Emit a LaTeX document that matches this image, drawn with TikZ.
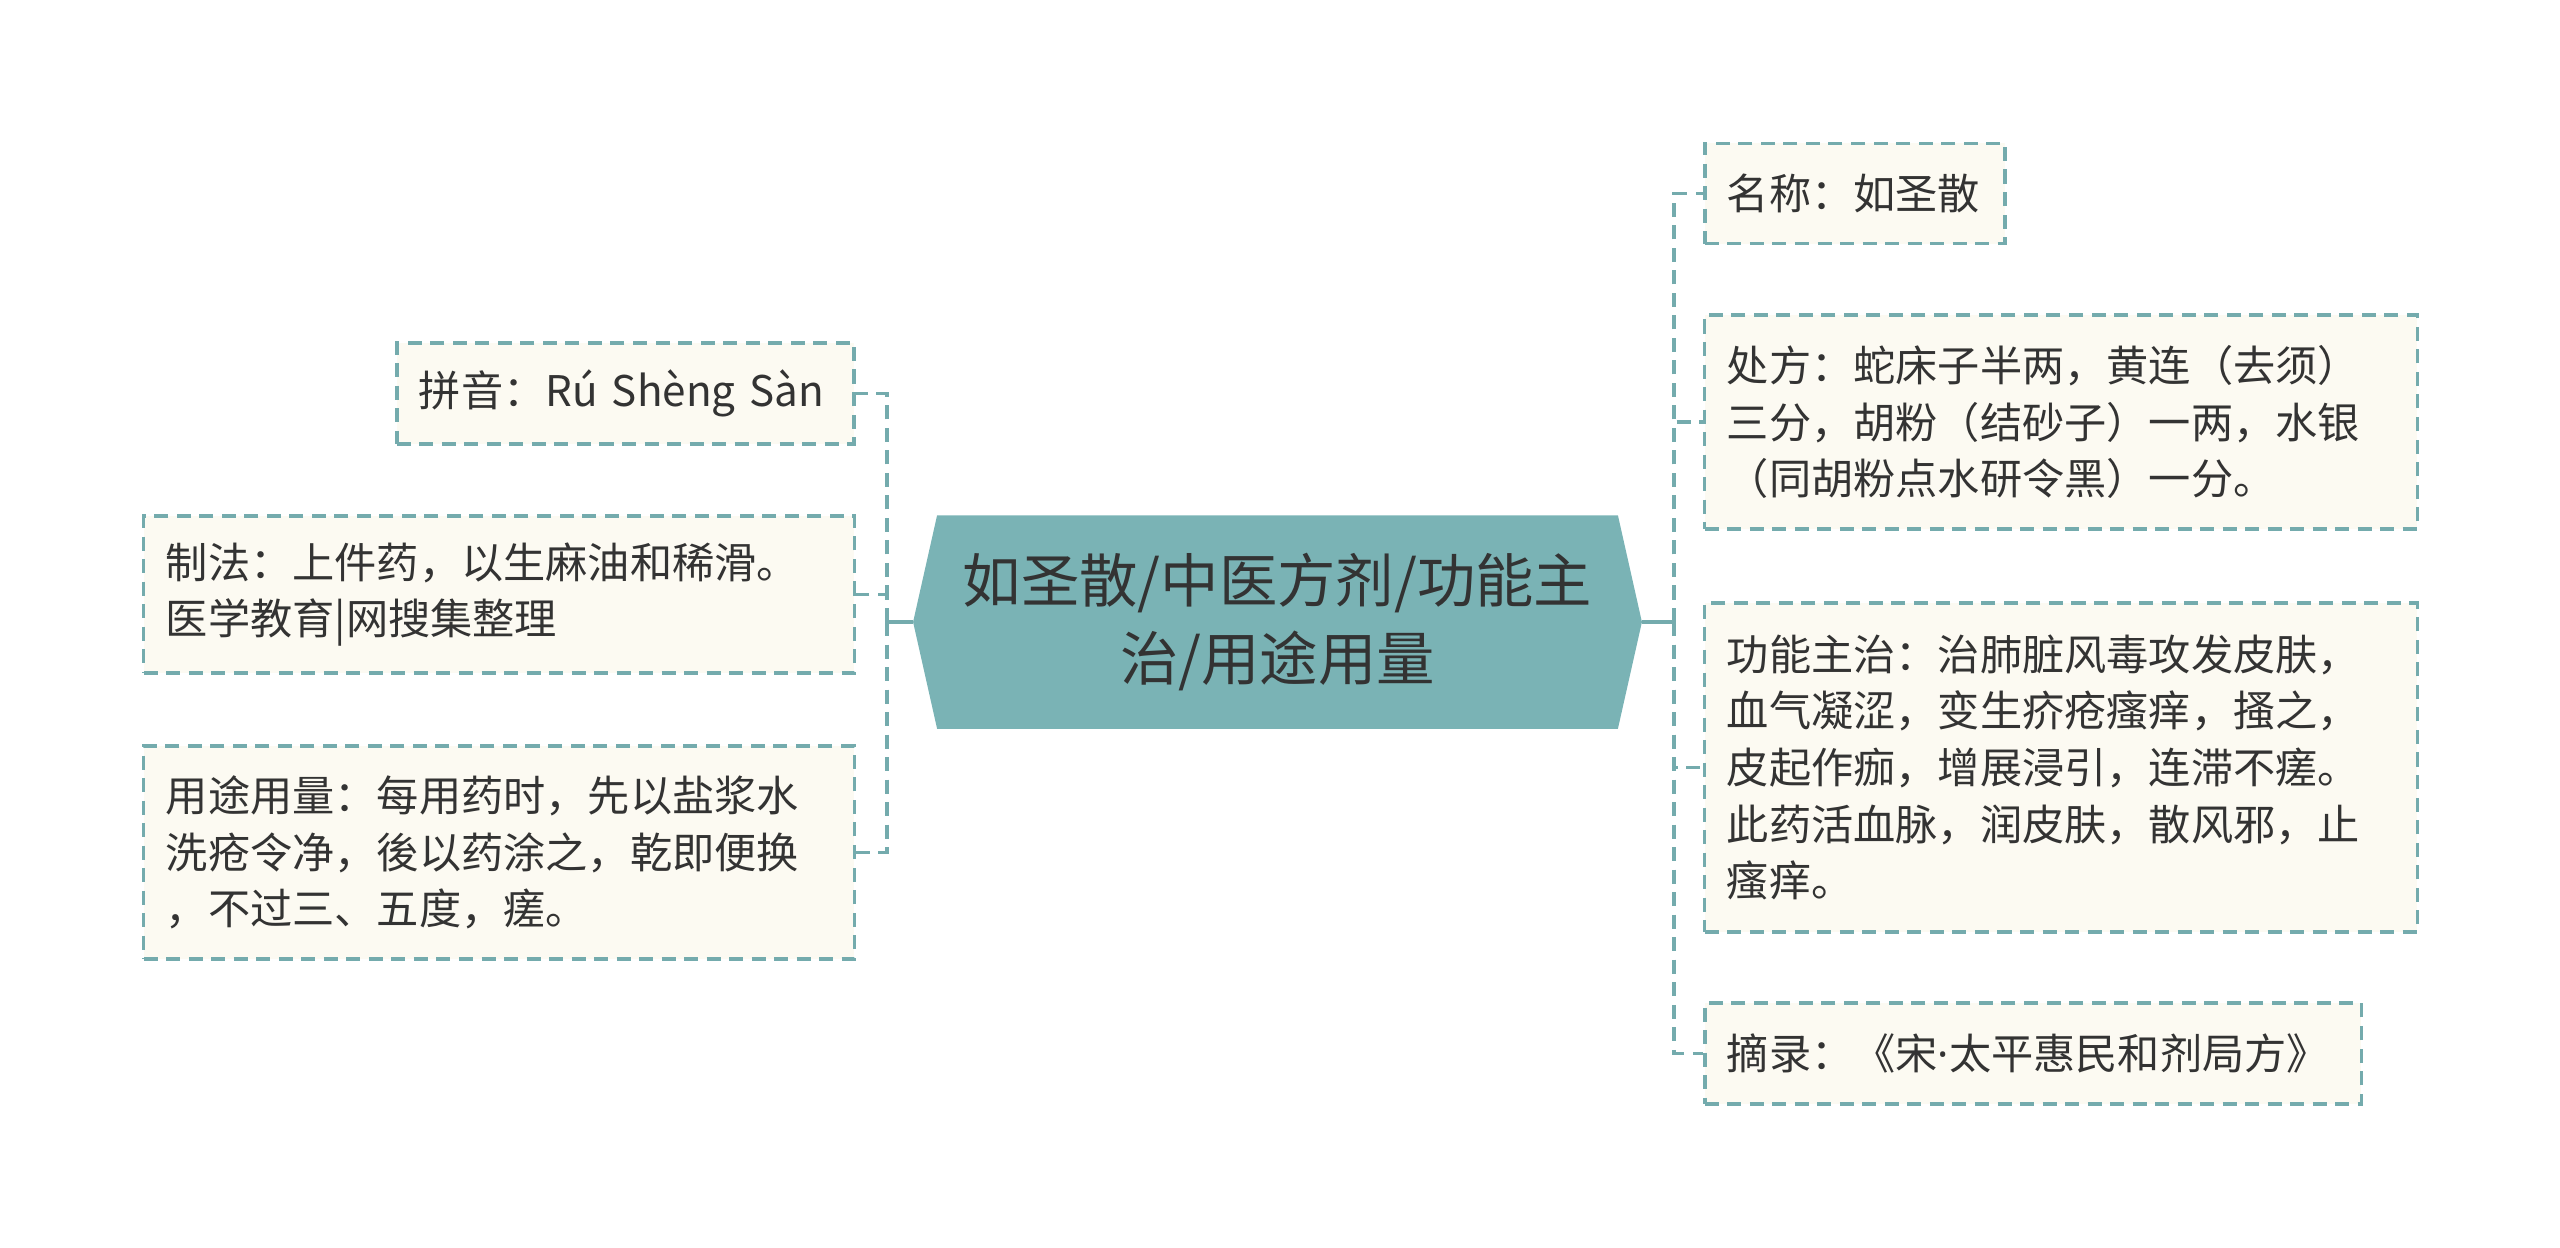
\documentclass[tikz,border=0pt]{standalone}
\usepackage{fontspec}
\setmainfont{Noto Sans CJK SC}
\newfontfamily\latinfont{Noto Sans}
\usetikzlibrary{backgrounds}
\definecolor{hubteal}{HTML}{7AB3B5}
\definecolor{linkteal}{HTML}{74ABAD}
\definecolor{leafcream}{HTML}{FCFAF2}
\definecolor{inkgray}{HTML}{333333}

\begin{document}
\begin{tikzpicture}[x=0.01cm,y=-0.01cm,
    leaf/.style={draw=linkteal,line width=0.95pt,dash pattern=on 0.14cm off 0.085cm,fill=leafcream,text=inkgray,
        align=left,inner xsep=0.22cm,inner ysep=0pt,font=\fontsize{12pt}{16.1pt}\selectfont},
    link/.style={draw=linkteal,line width=1pt,dash pattern=on 0.14cm off 0.085cm},
    stem/.style={draw=linkteal,line width=1.3pt}]
    \useasboundingbox (0,0) rectangle (2560,1247);
    % centre
    \node[text=inkgray,minimum width=7.27cm,minimum height=2.12cm,align=center,
        font=\fontsize{16.6pt}{22.2pt}\selectfont] (hub) at (1277.5,622) {如圣散/中医方剂/功能主\\治/用途用量};
    \begin{scope}[on background layer]
        \fill[hubteal] (hub.west) -- ([xshift=0.24cm]hub.north west) -- ([xshift=-0.24cm]hub.north east)
            -- (hub.east) -- ([xshift=-0.24cm]hub.south east) -- ([xshift=0.24cm]hub.south west) -- cycle;
    \end{scope}
    % left
    \node[leaf,text width=4.13cm,minimum height=1.01cm] (pinyin) at (625.5,393.5) {拼音：Rú Shèng Sàn};
    \node[leaf,text width=6.66cm,minimum height=1.57cm] (zhifa) at (499,594.5) {制法：上件药，以生麻油和稀滑。\\医学教育|网搜集整理};
    \node[leaf,text width=6.66cm,minimum height=2.13cm] (yongtu) at (499,852.5) {用途用量：每用药时，先以盐浆水\\洗疮令净，後以药涂之，乾即便换\\，不过三、五度，瘥。};
    % right
    \node[leaf,text width=2.56cm,minimum height=1.00cm] (mingcheng) at (1855,193.5) {名称：如圣散};
    \node[leaf,text width=6.68cm,minimum height=2.14cm] (chufang) at (2061,422) {处方：蛇床子半两，黄连（去须）\\三分，胡粉（结砂子）一两，水银\\（同胡粉点水研令黑）一分。};
    \node[leaf,text width=6.68cm,minimum height=3.29cm] (gongneng) at (2061,767.5) {功能主治：治肺脏风毒攻发皮肤，\\血气凝涩，变生疥疮瘙痒，搔之，\\皮起作痂，增展浸引，连滞不瘥。\\此药活血脉，润皮肤，散风邪，止\\瘙痒。};
    \node[leaf,text width=6.12cm,minimum height=1.01cm] (zhailu) at (2033,1053.5) {摘录：《宋{\latinfont ·}太平惠民和剂局方》};

    \coordinate (lt) at (887,622);
    \coordinate (rt) at (1674,622);
    \draw[stem] (hub.west) -- (lt);
    \draw[stem] (hub.east) -- (rt);
    \draw[link] (lt) |- (pinyin.east);
    \draw[link] (lt) |- (zhifa.east);
    \draw[link] (lt) |- (yongtu.east);
    \draw[link] (rt) |- (mingcheng.west);
    \draw[link] (rt) |- (chufang.west);
    \draw[link] (rt) |- (gongneng.west);
    \draw[link] (rt) |- (zhailu.west);
\end{tikzpicture}
\end{document}
